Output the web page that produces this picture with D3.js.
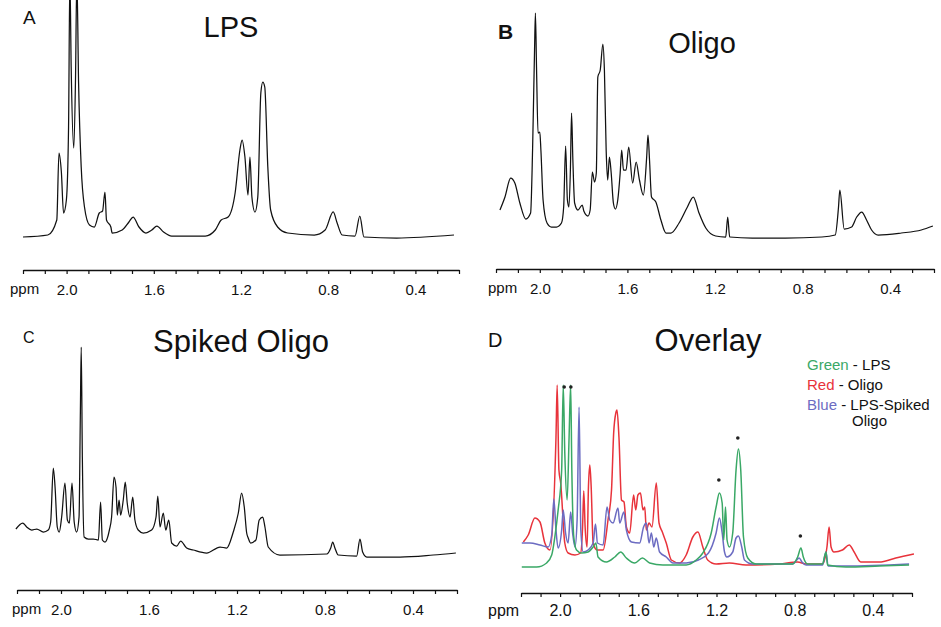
<!DOCTYPE html>
<html>
<head>
<meta charset="utf-8">
<script src="https://cdn.jsdelivr.net/npm/d3@7"></script>
<style>
  body { margin: 0; background: #fff; }
  svg text { font-family: "Liberation Sans", Arial, Helvetica, sans-serif; fill: #111; }
</style>
</head>
<body>
<div id="chart"></div>
<script>
// ---- data (ppm, intensity above baseline, arbitrary units) ----
const tickValues = [2.2, 2.1, 2.0, 1.9, 1.8, 1.7, 1.6, 1.5, 1.4, 1.3, 1.2, 1.1, 1.0, 0.9, 0.8, 0.7, 0.6, 0.5, 0.4, 0.3, 0.2];
const tickLabels = [2.0, 1.6, 1.2, 0.8, 0.4];

// A - LPS
const lpsSpectrum = [
  [2.200,0],[2.086,2],[2.045,17],[2.035,84],[2.024,65],[2.014,24],[2.001,37],[1.991,110],[1.985,260],
  [1.979,170],[1.967,89],[1.959,160],[1.953,260],[1.945,154],[1.933,70],[1.918,30],[1.895,12],[1.873,10],
  [1.850,24],[1.835,26],[1.824,45],[1.817,17],[1.797,10],[1.791,4],[1.745,7],[1.714,15],[1.695,20],
  [1.668,10],[1.636,4],[1.609,7],[1.586,11],[1.555,5],[1.518,1],[1.364,1],[1.318,7],[1.291,17],[1.259,20],
  [1.227,44],[1.205,87],[1.195,97],[1.182,80],[1.168,42],[1.159,80],[1.150,40],[1.136,25],[1.123,40],
  [1.109,144],[1.100,155],[1.091,150],[1.077,70],[1.064,27],[1.032,10],[0.986,4],[0.864,2],[0.814,7],
  [0.777,25],[0.759,14],[0.736,2],[0.677,1],[0.655,21],[0.636,0],[0.486,-1],[0.223,2]
];

// B - Oligo
const oligoSpectrum = [
  [2.182,28],[2.159,41],[2.133,60],[2.114,55],[2.091,35],[2.064,19],[2.042,25],[2.033,88],[2.024,188],
  [2.020,225],[2.015,171],[2.008,105],[2.000,106],[1.995,88],[1.985,38],[1.967,15],[1.947,11],[1.924,11],
  [1.901,15],[1.891,31],[1.882,92],[1.874,38],[1.867,31],[1.860,71],[1.855,125],[1.849,78],[1.841,35],
  [1.826,28],[1.806,33],[1.799,27],[1.780,22],[1.770,28],[1.760,66],[1.750,56],[1.742,65],[1.735,161],
  [1.724,168],[1.712,194],[1.705,168],[1.697,88],[1.690,58],[1.682,81],[1.674,65],[1.664,35],[1.655,29],
  [1.644,38],[1.633,65],[1.626,88],[1.618,68],[1.606,68],[1.594,91],[1.576,55],[1.560,76],[1.545,58],
  [1.527,43],[1.512,81],[1.506,103],[1.499,78],[1.490,41],[1.470,36],[1.447,18],[1.424,5],[1.401,5],
  [1.364,15],[1.326,31],[1.299,41],[1.273,25],[1.242,10],[1.197,2],[1.151,1],[1.142,21],[1.133,1],
  [1.030,0],[0.879,0],[0.712,1],[0.651,3],[0.636,31],[0.630,48],[0.610,9],[0.576,11],[0.553,21],
  [0.530,26],[0.508,18],[0.485,8],[0.455,3],[0.349,5],[0.258,8],[0.205,12]
];

// C - Spiked Oligo
const spikedSpectrum = [
  [2.205,26],[2.174,32],[2.156,28],[2.133,25],[2.110,26],[2.080,23],[2.058,25],[2.047,33],[2.035,87],
  [2.027,68],[2.017,28],[2.008,23],[1.997,38],[1.982,72],[1.971,35],[1.962,32],[1.950,72],[1.940,33],
  [1.929,23],[1.918,38],[1.912,142],[1.908,208],[1.903,98],[1.895,18],[1.876,16],[1.853,16],[1.830,15],
  [1.820,53],[1.812,15],[1.800,13],[1.780,25],[1.770,38],[1.759,78],[1.750,68],[1.744,40],[1.736,55],
  [1.729,40],[1.717,55],[1.708,73],[1.699,52],[1.686,38],[1.674,58],[1.664,35],[1.649,25],[1.626,22],
  [1.588,25],[1.568,38],[1.560,59],[1.550,28],[1.535,42],[1.524,25],[1.510,35],[1.497,12],[1.474,9],
  [1.456,14],[1.429,7],[1.399,5],[1.338,2],[1.277,8],[1.247,7],[1.217,23],[1.194,42],[1.179,62],
  [1.167,48],[1.156,22],[1.149,17],[1.138,12],[1.114,15],[1.099,35],[1.083,38],[1.073,28],[1.058,8],
  [1.005,0],[0.792,1],[0.774,7],[0.765,13],[0.755,7],[0.740,0],[0.656,-1],[0.641,16],[0.629,3],
  [0.610,-2],[0.459,-2],[0.308,0],[0.205,2]
];

// D - Overlay
const overlayGreen = [
  [2.196,1],[2.120,1],[2.069,5],[2.043,13],[2.027,31],[2.010,58],[1.992,98],[1.984,183],[1.976,115],
  [1.964,68],[1.954,131],[1.946,183],[1.940,98],[1.930,31],[1.916,18],[1.890,15],[1.857,16],[1.831,21],
  [1.817,25],[1.806,11],[1.763,6],[1.720,11],[1.690,16],[1.661,10],[1.618,5],[1.579,10],[1.542,5],
  [1.474,3],[1.355,3],[1.304,8],[1.270,15],[1.227,35],[1.202,61],[1.185,75],[1.171,65],[1.163,28],
  [1.154,61],[1.146,28],[1.134,21],[1.117,35],[1.100,98],[1.088,119],[1.076,98],[1.062,31],[1.040,10],
  [0.997,4],[0.811,4],[0.785,11],[0.768,20],[0.756,11],[0.734,4],[0.658,4],[0.640,16],[0.632,3],
  [0.538,1],[0.368,2],[0.215,3]
];
const overlayRed = [
  [2.188,26],[2.163,33],[2.129,50],[2.103,46],[2.078,25],[2.052,18],[2.021,131],[2.015,183],[2.006,98],
  [1.997,85],[1.976,25],[1.959,15],[1.924,13],[1.895,15],[1.885,41],[1.879,77],[1.872,41],[1.862,21],
  [1.855,81],[1.848,103],[1.841,81],[1.831,25],[1.811,18],[1.780,18],[1.755,48],[1.737,78],[1.726,135],
  [1.715,155],[1.709,158],[1.699,131],[1.686,68],[1.673,66],[1.661,41],[1.644,35],[1.624,73],[1.613,58],
  [1.602,73],[1.589,75],[1.576,58],[1.567,61],[1.559,38],[1.545,45],[1.530,41],[1.508,85],[1.494,45],
  [1.477,36],[1.457,25],[1.431,8],[1.389,5],[1.355,13],[1.321,31],[1.295,36],[1.270,21],[1.245,8],
  [1.202,4],[1.134,5],[1.049,3],[0.879,4],[0.785,6],[0.742,4],[0.658,4],[0.635,21],[0.624,41],
  [0.614,21],[0.599,16],[0.556,18],[0.521,23],[0.496,16],[0.462,6],[0.368,6],[0.283,10],[0.190,14]
];
const overlayBlue = [
  [2.196,25],[2.154,25],[2.103,23],[2.061,21],[2.043,33],[2.032,69],[2.021,38],[2.010,20],[1.992,38],
  [1.984,58],[1.972,35],[1.959,25],[1.946,56],[1.936,35],[1.924,21],[1.913,48],[1.903,161],[1.894,38],
  [1.882,16],[1.857,18],[1.831,25],[1.819,44],[1.809,25],[1.780,23],[1.760,61],[1.746,48],[1.729,45],
  [1.704,60],[1.695,45],[1.674,56],[1.661,38],[1.635,26],[1.593,25],[1.573,41],[1.559,45],[1.545,25],
  [1.533,35],[1.521,21],[1.508,30],[1.491,16],[1.457,11],[1.423,5],[1.355,5],[1.293,8],[1.241,15],
  [1.202,35],[1.185,50],[1.171,35],[1.159,16],[1.147,11],[1.117,16],[1.100,30],[1.088,32],[1.071,21],
  [1.057,8],[1.015,4],[0.811,4],[0.777,10],[0.763,6],[0.742,3],[0.658,3],[0.640,16],[0.629,2],
  [0.538,2],[0.215,4]
];
// asterisks marking LPS peaks in the overlay (ppm, intensity)
const asteriskMarks = [[1.979,181],[1.945,181],[1.188,88],[1.091,130],[0.771,32]];

const legendWords = ["Green", "Red", "Blue"];
const legendNames = ["LPS", "Oligo", "LPS-Spiked"];
const legendColors = ["#3aa866", "#e8333b", "#6c6cc2"];

// ---- layout ----
const W = 941, H = 627;
const svg = d3.select("#chart").append("svg").attr("width", W).attr("height", H);
svg.append("rect").attr("width", W).attr("height", H).attr("fill", "#fff");

const panels = [
  { letter: "A", title: "LPS", x0: 23, x1: 459, base: 237, axisY: 270, ppmX: 10,
    letterX: 23, letterY: 24, letterSize: 19, bold: false, titleX: 231, titleY: 37, titleSize: 29,
    series: [{ data: lpsSpectrum, color: "#111" }], fs: 15 },
  { letter: "B", title: "Oligo", x0: 496, x1: 934, base: 238, axisY: 269, ppmX: 488,
    letterX: 498, letterY: 39, letterSize: 21, bold: true, titleX: 702, titleY: 53, titleSize: 29,
    series: [{ data: oligoSpectrum, color: "#111" }], fs: 15 },
  { letter: "C", title: "Spiked Oligo", x0: 17, x1: 457, base: 555, axisY: 590, ppmX: 12,
    letterX: 23, letterY: 343, letterSize: 16, bold: false, titleX: 241, titleY: 352, titleSize: 31,
    series: [{ data: spikedSpectrum, color: "#111" }], fs: 15 },
  { letter: "D", title: "Overlay", x0: 521, x1: 912, base: 568, axisY: 593, ppmX: 488,
    letterX: 488, letterY: 347, letterSize: 20, bold: false, titleX: 708, titleY: 351, titleSize: 31,
    series: [
      { data: overlayRed, color: legendColors[1] },
      { data: overlayBlue, color: legendColors[2] },
      { data: overlayGreen, color: legendColors[0] }
    ], fs: 16, lw: 1.5 }
];

panels.forEach(p => {
  const x = d3.scaleLinear().domain([2.2, 0.2]).range([p.x0, p.x1]);
  const y = d3.scaleLinear().domain([0, 100]).range([p.base, p.base - 100]);

  // axis
  const axis = d3.axisBottom(x)
    .tickValues(tickValues)
    .tickSize(4)
    .tickSizeOuter(0)
    .tickPadding(p.fs === 16 ? 8 : 10)
    .tickFormat(d => tickLabels.includes(d) ? d.toFixed(1) : "");
  const ax = svg.append("g").attr("transform", `translate(0,${p.axisY})`).call(axis);
  ax.select(".domain").attr("stroke", "#111").attr("stroke-width", 1.4);
  ax.selectAll(".tick line").attr("stroke", "#111").attr("stroke-width", 1.2);
  ax.selectAll("text").attr("font-size", p.fs).attr("fill", "#111")
    .style("font-family", '"Liberation Sans", Arial, sans-serif');

  svg.append("text")
    .attr("x", p.ppmX)
    .attr("y", p.axisY + (p.fs === 16 ? 23 : 24))
    .attr("font-size", p.fs)
    .text("ppm");

  // spectra
  const line = d3.line()
    .x(d => x(d[0]))
    .y(d => y(d[1]))
    .curve(d3.curveMonotoneX);
  p.series.forEach(s => {
    svg.append("path")
      .datum(s.data)
      .attr("d", line)
      .attr("fill", "none")
      .attr("stroke", s.color)
      .attr("stroke-width", p.lw || 1.25)
      .attr("stroke-linejoin", "round");
  });

  // panel letter and title
  svg.append("text")
    .attr("x", p.letterX).attr("y", p.letterY)
    .attr("font-size", p.letterSize)
    .attr("font-weight", p.bold ? "bold" : "normal")
    .text(p.letter);
  svg.append("text")
    .attr("x", p.titleX).attr("y", p.titleY)
    .attr("text-anchor", "middle")
    .attr("font-size", p.titleSize)
    .text(p.title);

  if (p.letter === "D") {
    svg.selectAll(".star")
      .data(asteriskMarks)
      .join("circle")
      .attr("class", "star")
      .attr("cx", d => x(d[0]))
      .attr("cy", d => y(d[1]))
      .attr("r", 1.8)
      .attr("fill", "#222");

    const legend = svg.append("g");
    legendWords.forEach((w, i) => {
      const t = legend.append("text")
        .attr("x", 807).attr("y", 370 + i * 20)
        .attr("font-size", 15);
      t.append("tspan").style("fill", legendColors[i]).text(w);
      t.append("tspan").text(" - " + legendNames[i]);
    });
    legend.append("text")
      .attr("x", 852).attr("y", 426)
      .attr("font-size", 15)
      .text("Oligo");
  }
});
</script>
</body>
</html>
